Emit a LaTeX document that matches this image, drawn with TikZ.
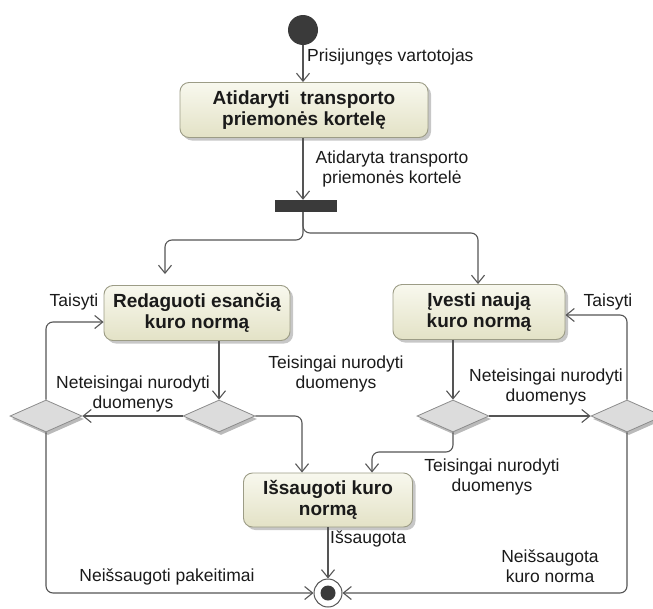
\documentclass[tikz,border=0pt]{standalone}
\usepackage{fontspec}
\setmainfont{Liberation Sans}
\usetikzlibrary{shapes.geometric,arrows.meta,shadows}

\definecolor{flowline}{HTML}{555555}
\definecolor{actborder}{HTML}{9C9C86}
\definecolor{acttop}{HTML}{F8F8EE}
\definecolor{actbottom}{HTML}{E3E2C6}
\definecolor{decborder}{HTML}{8C8C8C}
\definecolor{decfill}{HTML}{DCDCDC}
\definecolor{nodedark}{HTML}{3A3A3A}
\definecolor{textdark}{HTML}{1A1A1A}

\begin{document}
\begin{tikzpicture}[x=1pt,y=-1pt,
  action/.style={rectangle, rounded corners=9pt, draw=actborder, line width=0.9pt,
    top color=acttop, bottom color=actbottom, align=center, inner sep=0pt,
    text=textdark, font=\bfseries\fontsize{19}{21}\selectfont,
    drop shadow={shadow xshift=3pt, shadow yshift=-3pt, fill=black!40, opacity=0.55}},
  decision/.style={diamond, draw=decborder, fill=decfill, line width=0.8pt,
    minimum width=72pt, minimum height=32pt, inner sep=0pt, aspect=2.25,
    drop shadow={shadow xshift=2pt, shadow yshift=-3pt, fill=black!45, opacity=0.6}},
  startnode/.style={circle, fill=nodedark, minimum size=30pt, inner sep=0pt},
  endnode/.style={circle, draw=flowline, line width=1pt, fill=white, minimum size=28pt, inner sep=0pt},
  forkbar/.style={rectangle, fill=nodedark, minimum width=62pt, minimum height=12pt, inner sep=0pt},
  flow/.style={draw=flowline, line width=1.1pt, rounded corners=7pt,
    -{Straight Barb[length=8pt,width=13pt]}},
  lbl/.style={font=\fontsize{17.5}{19.5}\selectfont, align=center, inner sep=0pt, text=textdark}
]
\useasboundingbox (0,0) rectangle (653,608);

% activity nodes
\node[startnode] (start) at (303,30) {};
\node[action, minimum width=248pt, minimum height=55pt] (open) at (304,110)
  {Atidaryti~ transporto\\priemonės kortelę};
\node[forkbar] (fork) at (306,206) {};
\node[action, minimum width=186pt, minimum height=55pt] (edit) at (197,313)
  {Redaguoti esančią\\kuro normą};
\node[action, minimum width=172pt, minimum height=55pt] (new) at (479,312)
  {Įvesti naują\\kuro normą};
\node[action, minimum width=169pt, minimum height=54pt] (save) at (328,500)
  {Išsaugoti kuro\\normą};

% decisions
\node[decision] (d1) at (46,416) {};
\node[decision] (d2) at (219,416) {};
\node[decision] (d3) at (453,416) {};
\node[decision] (d4) at (627,416) {};

% final node
\node[endnode] (end) at (328,593) {};
\fill[nodedark] (end.center) circle (7.5pt);

% bend points
\coordinate (lturn) at (165,240);
\coordinate (rturn) at (478,233);
\coordinate (low) at (0,452);

% connectors
\draw[flow] (start) -- (start |- open.north);
\draw[flow] (start |- open.south) -- (start |- fork.north);
\draw[flow, shorten >=11pt] (start |- fork.south) |- (lturn) -- (lturn |- edit.north);
\draw[flow] (start |- fork.south) |- (rturn) -- (rturn |- new.north);
\draw[flow] (d2.north |- edit.south) -- (d2.north);
\draw[flow] (d2.west) -- (d1.east);
\draw[flow] (d1.north) |- ([yshift=-9pt]edit.west);
\draw[flow] (d2.east) -| ([xshift=-26pt]save.north);
\draw[flow] (d3.north |- new.south) -- (d3.north);
\draw[flow] (d3.east) -- (d4.west);
\draw[flow] (d4.north) |- ([yshift=-3pt]new.east);
\draw[flow] (d3.south) -- (d3.south |- low) -| ([xshift=44pt]save.north);
\draw[flow] (save.south) -- (end.north);
\draw[flow] (d1.south) |- (end.west);
\draw[flow] (d4.south) |- (end.east);

% guard labels
\node[lbl, anchor=west] (l1) at (307,57) {Prisijungęs vartotojas};
\node[lbl] (l2) at (392,169) {Atidaryta transporto\\priemonės kortelė};
\node[lbl] (l3) at (74,302) {Taisyti};
\node[lbl] (l4) at (608,302) {Taisyti};
\node[lbl] (l5) at (336,374) {Teisingai nurodyti\\duomenys};
\node[lbl] (l6) at (133,394) {Neteisingai nurodyti\\duomenys};
\node[lbl] (l7) at (546,387) {Neteisingai nurodyti\\duomenys};
\node[lbl] (l8) at (492,477) {Teisingai nurodyti\\duomenys};
\node[lbl, anchor=west] (l9) at (330,539) {Išsaugota};
\node[lbl] (l10) at (167,577) {Neišsaugoti pakeitimai};
\node[lbl] (l11) at (550,566) {Neišsaugota\\kuro norma};
\end{tikzpicture}
\end{document}
